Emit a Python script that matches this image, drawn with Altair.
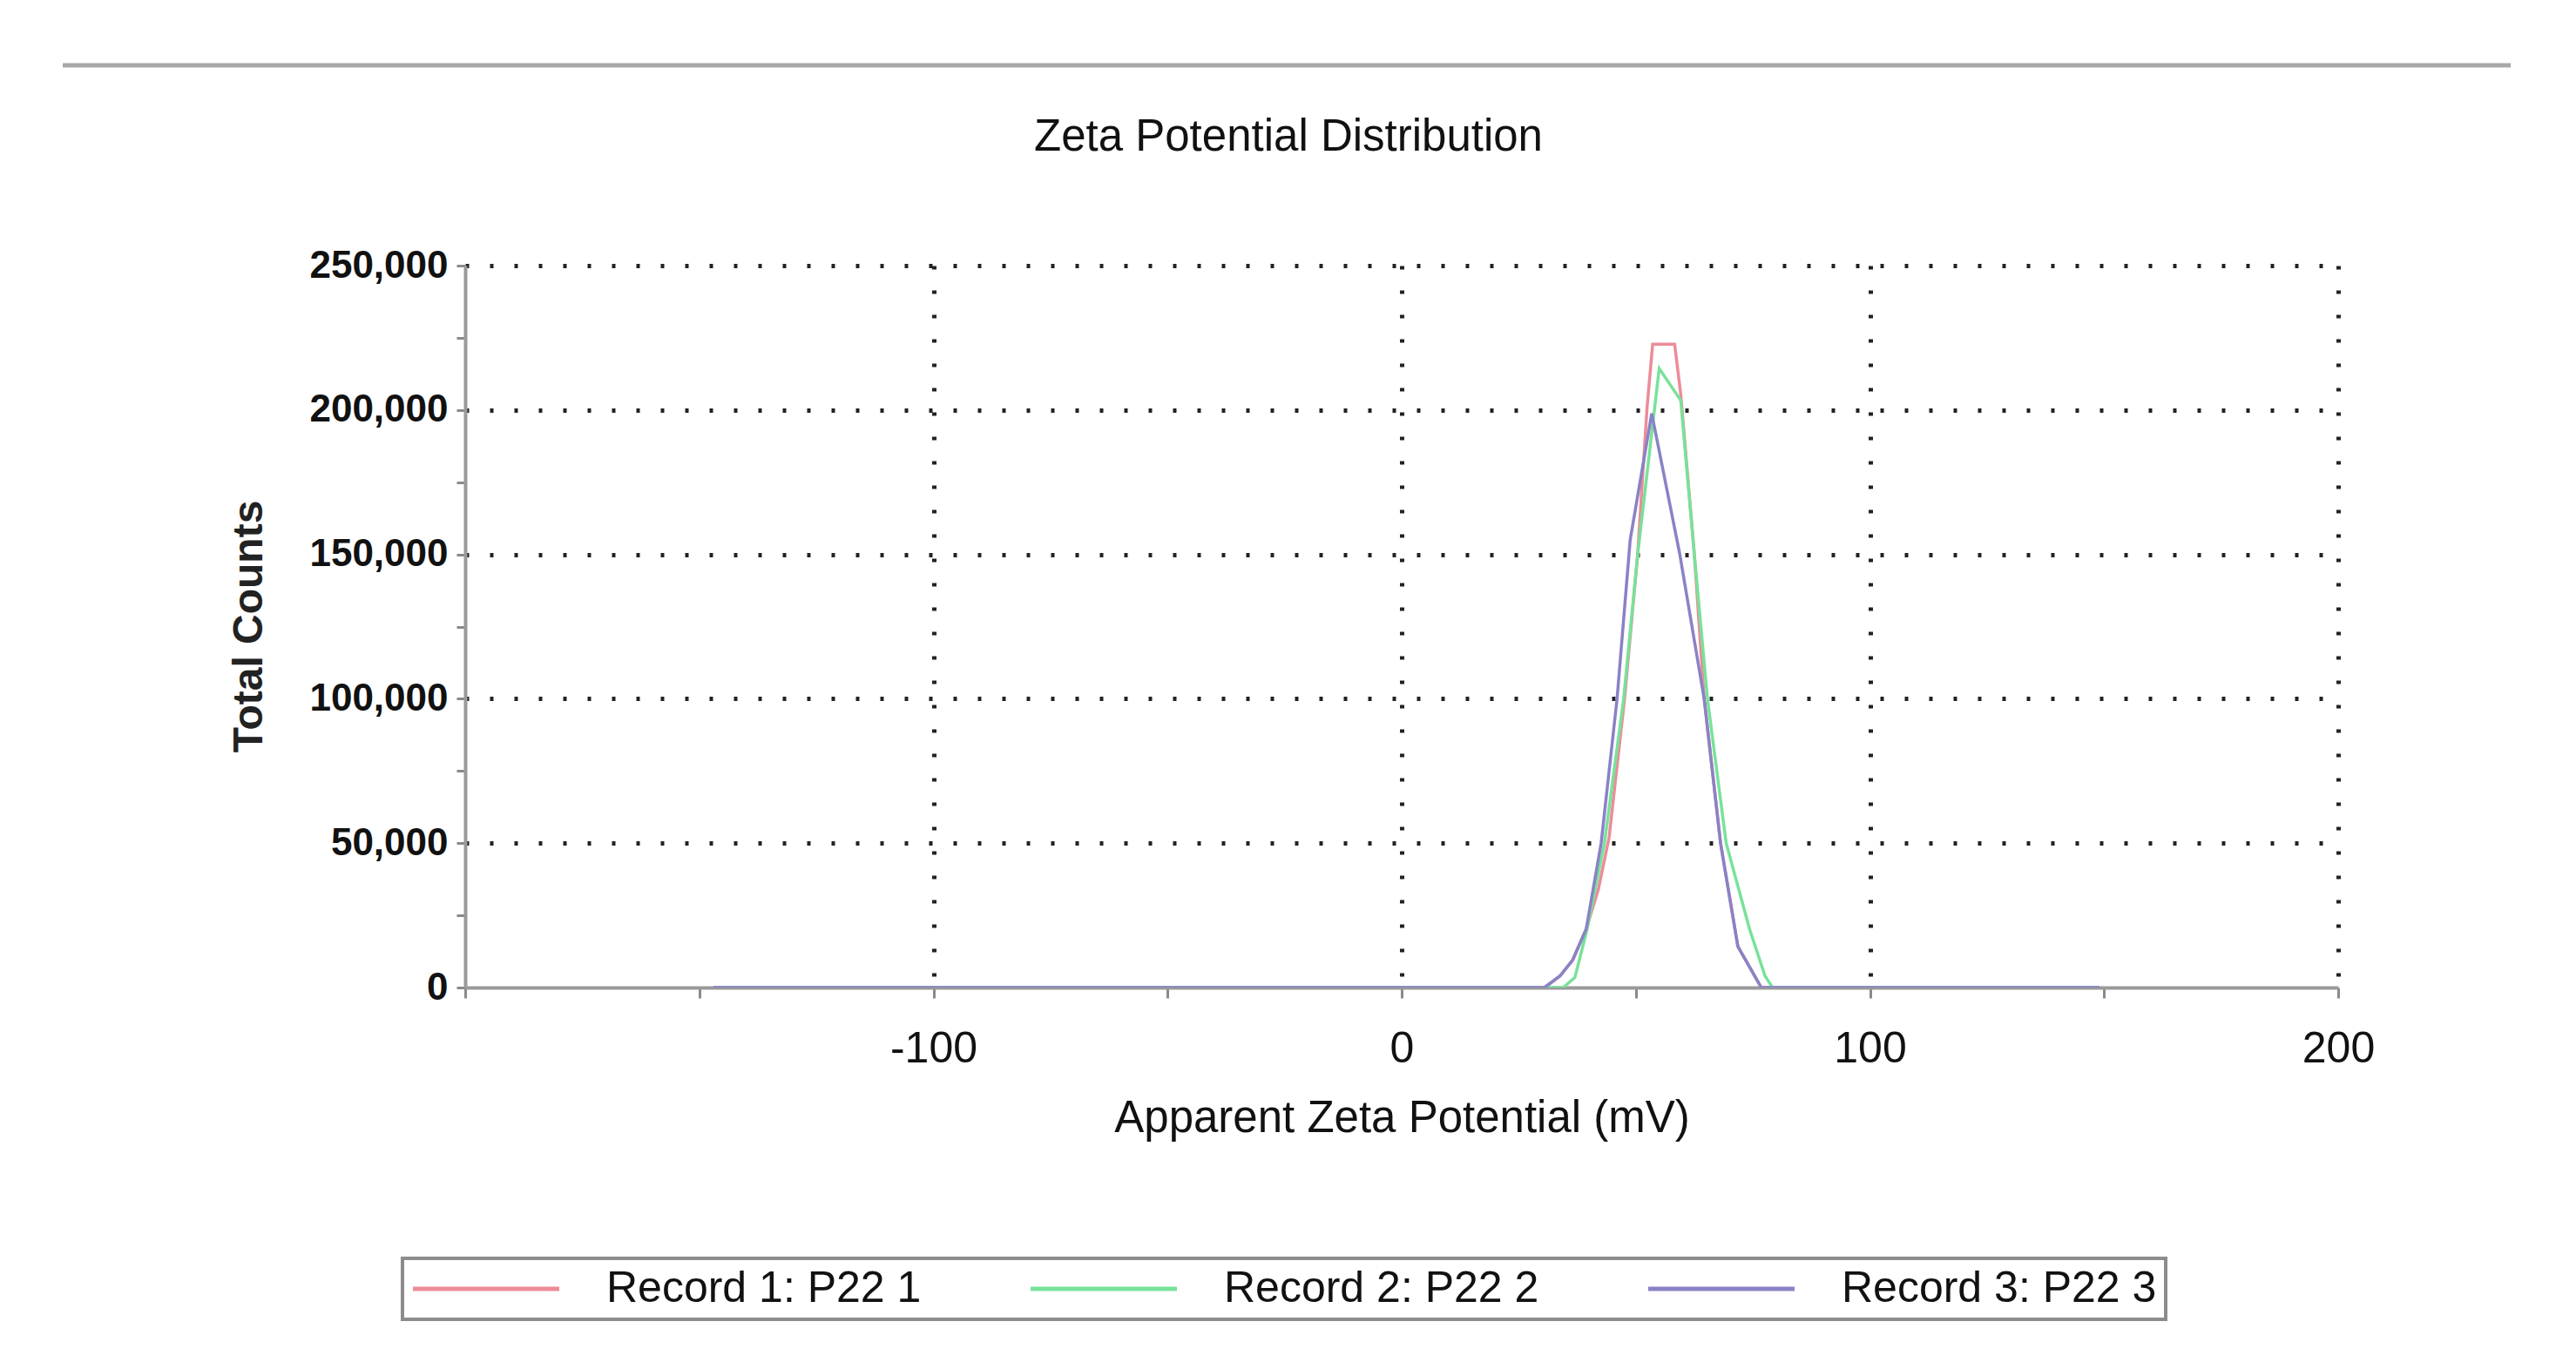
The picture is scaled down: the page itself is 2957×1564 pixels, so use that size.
import altair as alt
import pandas as pd

# ---------------- data ----------------
series_names = ["Record 1: P22 1", "Record 2: P22 2", "Record 3: P22 3"]
series_colors = ["#ec8c98", "#78e29a", "#8a82c6"]

rec1_mv = [-147, 30.5, 33.8, 36.5, 39.4, 42.0, 44.3, 47.6, 50.4, 52.4, 53.6, 58.3, 59.6, 62.5, 64.6, 68.1, 71.8, 76.8, 149]
rec1_counts = [0, 0, 4000, 9500, 20200, 34000, 52000, 100000, 150000, 200800, 222800, 222800, 205400, 150000, 100000, 50000, 14200, 0, 0]

rec2_mv = [-147, 34.5, 37.0, 39.6, 43.3, 47.4, 50.4, 55.0, 59.6, 62.5, 65.3, 69.3, 74.3, 77.6, 79.2, 149]
rec2_counts = [0, 0, 3500, 20200, 50000, 100000, 150000, 214400, 203300, 150000, 100000, 50000, 20200, 4000, 0, 0]

rec3_mv = [-147, 30.5, 33.8, 36.5, 39.4, 42.6, 46.0, 48.8, 53.4, 59.4, 64.6, 68.1, 71.8, 76.8, 149]
rec3_counts = [0, 0, 4000, 9500, 20200, 50000, 100000, 155000, 198800, 150000, 100000, 50000, 14200, 0, 0]

x_ticks = [-200, -150, -100, -50, 0, 50, 100, 150, 200]
y_ticks = [0, 25000, 50000, 75000, 100000, 125000, 150000, 175000, 200000, 225000, 250000]

rows = []
for name, xs, ys in zip(series_names, [rec1_mv, rec2_mv, rec3_mv], [rec1_counts, rec2_counts, rec3_counts]):
    for xv, yv in zip(xs, ys):
        rows.append({"series": name, "mv": xv, "counts": yv})
df = pd.DataFrame(rows)

# ---------------- layout ----------------
W, H = 2150, 829
PAD_L, PAD_T = 526, 297
TOTAL_W, TOTAL_H = 2935, 1540

x_axis = alt.Axis(
    values=x_ticks,
    title="Apparent Zeta Potential (mV)",
    labelExpr="datum.value % 100 === 0 && datum.value > -200 ? '' + datum.value : ''",
    grid=True,
    gridOpacity={"condition": {"test": "datum.value % 100 === 0 && datum.value > -200", "value": 1}, "value": 0},
    gridColor="#222222",
    gridDash=[4, 24],
    gridWidth=5,
    domainColor="#9a9a9a",
    domainWidth=4,
    tickColor="#8a8a8a",
    tickWidth=3,
    tickSize=12,
    labelFontSize=50,
    labelColor="#111111",
    labelPadding=33,
    labelFlush=False,
    labelOverlap=False,
    titleFontSize=51,
    titleFontWeight="normal",
    titleColor="#111111",
    titleBaseline="middle",
    titleY=150,
)

y_axis = alt.Axis(
    values=y_ticks,
    format=",d",
    title="Total Counts",
    labelExpr="datum.value % 50000 === 0 ? datum.label : ''",
    grid=True,
    gridOpacity={"condition": {"test": "datum.value % 50000 === 0 && datum.value > 0", "value": 1}, "value": 0},
    gridColor="#222222",
    gridDash=[4, 24],
    gridWidth=5,
    domainColor="#9a9a9a",
    domainWidth=4,
    tickColor="#8a8a8a",
    tickWidth=3,
    tickSize=10,
    labelFontSize=44,
    labelFontWeight="bold",
    labelColor="#111111",
    labelPadding=10,
    labelOverlap=False,
    titleFontSize=48,
    titleFontWeight="bold",
    titleColor="#222222",
    titleAngle=270,
    titleBaseline="middle",
    titleAlign="center",
    titleX=-248,
    titleY=414,
)

legend = alt.Legend(
    title=None,
    orient="none",
    legendX=-72,
    legendY=1140,
    direction="horizontal",
    columns=3,
    symbolType="M-4,0H4",
    symbolSize=1764,
    symbolStrokeWidth=5,
    symbolOffset=61,
    labelOffset=113,
    columnPadding=115,
    labelFontSize=50,
    labelColor="#111111",
    labelLimit=0,
    padding=10,
    strokeColor="#8c8c8c",
)

lines = alt.Chart(df).mark_line(strokeWidth=3.5, clip=True).encode(
    x=alt.X("mv:Q", scale=alt.Scale(domain=[-200, 200], nice=False, zero=False), axis=x_axis),
    y=alt.Y("counts:Q", scale=alt.Scale(domain=[0, 250000], nice=False), axis=y_axis),
    color=alt.Color("series:N", scale=alt.Scale(domain=series_names, range=series_colors), legend=legend),
)

top_rule = alt.Chart(pd.DataFrame({"k": [0]})).mark_rule(color="#a8a8a8", strokeWidth=5).encode(
    x=alt.value(72 - 534), x2=alt.value(2882 - 534), y=alt.value(75 - 305)
)

chart = alt.layer(top_rule, lines).properties(
    width=W,
    height=H,
    title=alt.TitleParams(
        "Zeta Potential Distribution",
        fontSize=51,
        fontWeight="normal",
        color="#111111",
        anchor="middle",
        frame="group",
        baseline="alphabetic",
        dx=-130,
        dy=151,
        offset=0,
    ),
    autosize=alt.AutoSizeParams(type="none"),
    padding={"left": PAD_L, "top": PAD_T, "right": TOTAL_W - PAD_L - W, "bottom": TOTAL_H - PAD_T - H},
).configure(font="Liberation Sans").configure_view(strokeWidth=0).configure_legend(strokeWidth=4)

chart.save("out.html", embed_options={"renderer": "svg", "actions": False})
